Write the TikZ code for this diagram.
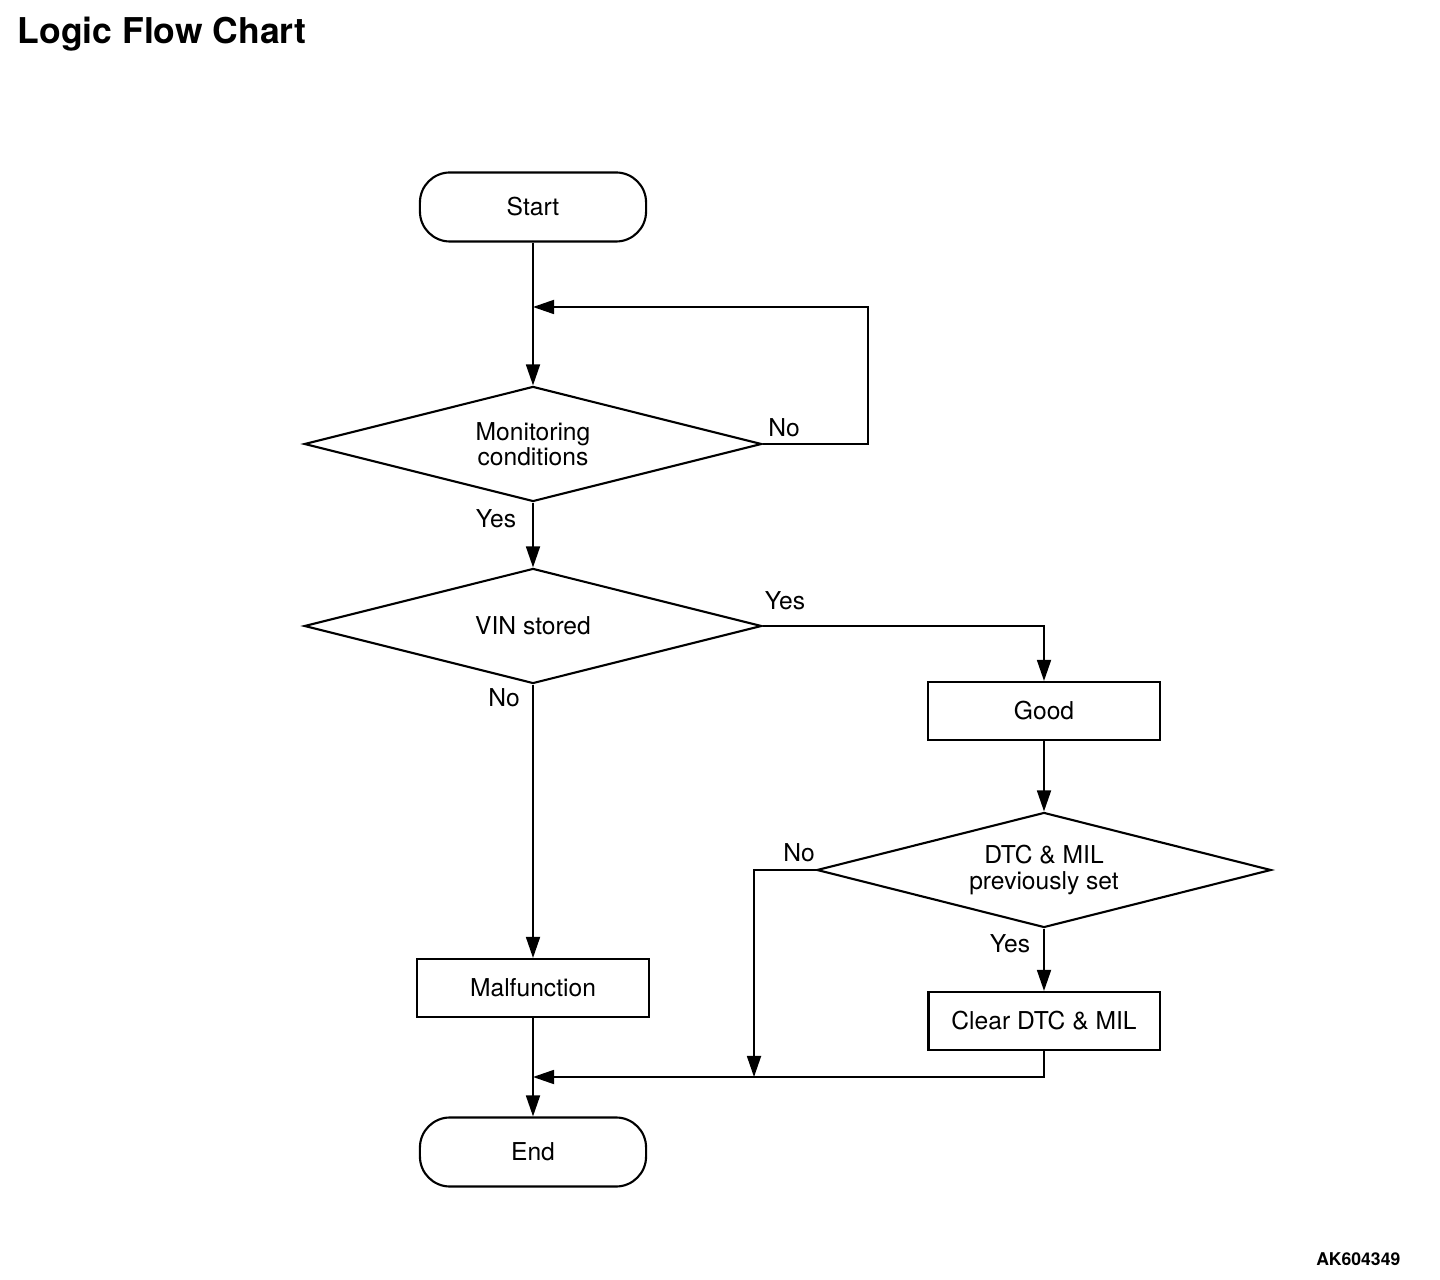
\documentclass[tikz,border=0pt]{standalone}
\usepackage{fontspec}
\setmainfont{TeX Gyre Heros}
\usetikzlibrary{arrows.meta}
\usetikzlibrary{shapes.geometric}
\usetikzlibrary{positioning}

\tikzset{
	box/.style={draw, line width=0.6pt, minimum width=2.32cm, minimum height=0.58cm, inner sep=0pt},
	term/.style={draw, line width=0.6pt, rounded corners=0.3cm, minimum width=2.26cm, minimum height=0.69cm, inner sep=0pt},
	decide/.style={draw, diamond, line width=0.6pt, aspect=4, inner sep=0pt, minimum width=4.57cm, minimum height=1.15cm, align=center},
	lbl/.style={inner sep=0pt},
	arr/.style={-{Triangle[length=0.21cm, width=0.14cm]}, line width=0.5pt},
}

\begin{document}
\begin{tikzpicture}[x=0.01cm, y=-0.01cm, font=\fontsize{7}{7.2}\selectfont]
		\useasboundingbox (0,0) rectangle (1440,1280);
		% title and figure number
		\node[lbl, anchor=base west, font=\fontsize{10.1}{12}\selectfont\bfseries] (title) at (17,44) {Logic Flow Chart};
		\node[lbl, anchor=base east, font=\fontsize{5}{6}\selectfont\bfseries] (fignum) at (1401,1265) {AK604349};

		% main column
		\node[term] (start) at (533,207) {Start};
		\node[decide] (mon) at (533,444) {\raisebox{3pt}{\parbox{2cm}{\centering Monitoring\\conditions}}};
		\node[decide] (vin) at (533,626) {VIN stored};
		\node[box] (mal) at (533,988) {Malfunction};
		\node[term] (end) at (533,1152) {End};

		% right column
		\node[box] (good) at (1044,711) {Good};
		\node[decide, minimum width=4.54cm] (dtc) at (1044,870) {DTC \& MIL\\previously set};
		\node[box, minimum width=2.31cm] (clear) at (1044,1021) {Clear DTC \& MIL};

		% join points
		\coordinate (loop) at (868,307);
		\coordinate (join1) at (533,307);
		\coordinate (join2) at (533,1077);
		\coordinate (join3) at (754,1077);

		% connectors
		\draw[arr] (start) -- (mon);
		\draw[arr] (mon.east) -| (loop) -- (join1);
		\draw[arr] (mon) -- (vin);
		\draw[arr] (vin) -- (mal);
		\draw[arr] (vin.east) -| (good);
		\draw[arr] (good) -- (dtc);
		\draw[arr] (dtc) -- (clear);
		\draw[arr] (dtc.west) -| (join3);
		\draw[arr] (clear.south) |- (join2);
		\draw[arr] (mal) -- (end);

		% branch labels
		\node[lbl] (noMon) at (784,428) {No};
		\node[lbl] (yesMon) at (496,519) {Yes};
		\node[lbl] (yesVin) at (785,601) {Yes};
		\node[lbl] (noVin) at (504,698) {No};
		\node[lbl] (noDtc) at (799,853) {No};
		\node[lbl] (yesDtc) at (1010,944) {Yes};
	\end{tikzpicture}
\end{document}
